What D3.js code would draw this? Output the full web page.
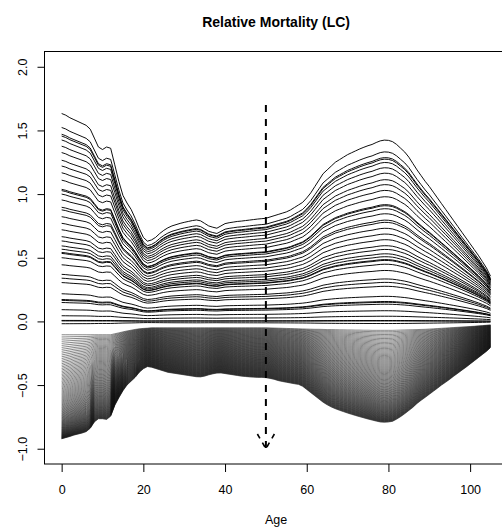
<!DOCTYPE html>
<html>
<head>
<meta charset="utf-8">
<script src="https://cdn.jsdelivr.net/npm/d3@7"></script>
<style>
  body { margin: 0; background: #fff; }
  svg { display: block; }
  text { font-family: "Liberation Sans", Arial, Helvetica, sans-serif; fill: #000; }
</style>
</head>
<body>
<svg id="chart" width="502" height="530"></svg>
<script>
// Single-year ages on the x axis
const ages = d3.range(0, 106);

// Relative mortality of the earliest observed year (upper envelope), by age
const topProfile = [
  1.633, 1.62, 1.60, 1.585, 1.57, 1.555, 1.54, 1.51, 1.44, 1.37,
  1.35, 1.37, 1.36, 1.23, 1.10, 0.99, 0.93, 0.88, 0.81, 0.73,
  0.66, 0.63, 0.64, 0.66, 0.69, 0.715, 0.735, 0.75, 0.76, 0.77,
  0.778, 0.785, 0.792, 0.797, 0.79, 0.77, 0.75, 0.74, 0.732, 0.75,
  0.768, 0.775, 0.78, 0.785, 0.788, 0.792, 0.796, 0.80, 0.804, 0.807,
  0.81, 0.82, 0.83, 0.84, 0.85, 0.86, 0.875, 0.895, 0.915, 0.935,
  0.97, 1.01, 1.06, 1.11, 1.16, 1.19, 1.22, 1.25, 1.27, 1.29,
  1.31, 1.325, 1.34, 1.355, 1.368, 1.38, 1.39, 1.405, 1.418, 1.424,
  1.422, 1.412, 1.39, 1.36, 1.33, 1.29, 1.24, 1.19, 1.145, 1.10,
  1.06, 1.015, 0.97, 0.925, 0.88, 0.835, 0.79, 0.745, 0.70, 0.655,
  0.61, 0.565, 0.52, 0.47, 0.42, 0.355
];

// Period index of the observed years (1 = earliest year, 0 = base year)
const pastIndex = [
  1.0, 0.956, 0.934, 0.928, 0.915, 0.894, 0.872, 0.845, 0.824, 0.799,
  0.771, 0.735, 0.730, 0.716, 0.692, 0.661, 0.650, 0.620, 0.590, 0.560,
  0.527, 0.506, 0.481, 0.464, 0.447, 0.442, 0.419, 0.380, 0.325, 0.302,
  0.275, 0.203, 0.164, 0.158, 0.143, 0.091, 0.045, 0.008, 0.004, -0.019
];

// Forecast jump-off level (first forecast year), by age
const jumpOffProfile = [
  -0.105, -0.105, -0.105, -0.105, -0.105, -0.105, -0.105, -0.105, -0.105, -0.105,
  -0.105, -0.105, -0.105, -0.097, -0.09, -0.082, -0.075, -0.069, -0.063, -0.058,
  -0.055, -0.053, -0.05, -0.05, -0.05, -0.05, -0.05, -0.05, -0.05, -0.05,
  -0.05, -0.05, -0.05, -0.05, -0.05, -0.05, -0.05, -0.05, -0.05, -0.05,
  -0.05, -0.05, -0.05, -0.05, -0.05, -0.05, -0.05, -0.05, -0.05, -0.05,
  -0.05, -0.051, -0.052, -0.053, -0.054, -0.055, -0.056, -0.057, -0.058, -0.059,
  -0.06, -0.061, -0.062, -0.062, -0.063, -0.064, -0.064, -0.065, -0.066, -0.066,
  -0.067, -0.067, -0.068, -0.068, -0.069, -0.069, -0.07, -0.07, -0.07, -0.07,
  -0.07, -0.07, -0.069, -0.068, -0.067, -0.066, -0.065, -0.064, -0.063, -0.062,
  -0.06, -0.058, -0.056, -0.054, -0.052, -0.05, -0.048, -0.046, -0.044, -0.042,
  -0.04, -0.038, -0.035, -0.033, -0.03, -0.028
];

// Relative mortality of the last forecast year (lower envelope), by age
const bottomProfile = [
  -0.922, -0.913, -0.904, -0.893, -0.885, -0.877, -0.866, -0.84, -0.79, -0.765,
  -0.765, -0.77, -0.745, -0.66, -0.60, -0.545, -0.50, -0.47, -0.44, -0.40,
  -0.372, -0.355, -0.36, -0.37, -0.38, -0.39, -0.40, -0.405, -0.41, -0.415,
  -0.42, -0.425, -0.43, -0.435, -0.436, -0.43, -0.42, -0.412, -0.406, -0.405,
  -0.41, -0.415, -0.42, -0.425, -0.43, -0.433, -0.436, -0.438, -0.44, -0.44,
  -0.442, -0.448, -0.455, -0.465, -0.472, -0.478, -0.484, -0.49, -0.495, -0.51,
  -0.535, -0.56, -0.585, -0.61, -0.635, -0.655, -0.672, -0.686, -0.698, -0.709,
  -0.72, -0.73, -0.74, -0.749, -0.758, -0.767, -0.775, -0.783, -0.79, -0.792,
  -0.79, -0.785, -0.768, -0.748, -0.725, -0.70, -0.675, -0.645, -0.62, -0.597,
  -0.573, -0.549, -0.525, -0.50, -0.478, -0.455, -0.43, -0.407, -0.383, -0.36,
  -0.335, -0.31, -0.285, -0.26, -0.235, -0.205
];

// Forecast period index (0 = jump-off year, 1 = last forecast year)
const forecastIndex = [
  0.000, 0.008, 0.016, 0.024, 0.032, 0.040, 0.048, 0.056, 0.064, 0.072,
  0.080, 0.088, 0.096, 0.104, 0.112, 0.120, 0.128, 0.136, 0.144, 0.152,
  0.160, 0.168, 0.176, 0.184, 0.192, 0.200, 0.208, 0.216, 0.224, 0.232,
  0.240, 0.248, 0.256, 0.264, 0.272, 0.280, 0.288, 0.296, 0.304, 0.312,
  0.320, 0.328, 0.336, 0.344, 0.352, 0.360, 0.368, 0.376, 0.384, 0.392,
  0.400, 0.408, 0.416, 0.424, 0.432, 0.440, 0.448, 0.456, 0.464, 0.472,
  0.480, 0.488, 0.496, 0.504, 0.512, 0.520, 0.528, 0.536, 0.544, 0.552,
  0.560, 0.568, 0.576, 0.584, 0.592, 0.600, 0.608, 0.616, 0.624, 0.632,
  0.640, 0.648, 0.656, 0.664, 0.672, 0.680, 0.688, 0.696, 0.704, 0.712,
  0.720, 0.728, 0.736, 0.744, 0.752, 0.760, 0.768, 0.776, 0.784, 0.792,
  0.800, 0.808, 0.816, 0.824, 0.832, 0.840, 0.848, 0.856, 0.864, 0.872,
  0.880, 0.888, 0.896, 0.904, 0.912, 0.920, 0.928, 0.936, 0.944, 0.952,
  0.960, 0.968, 0.976, 0.984, 0.992, 1.000
];

// Axis ticks and the marked age
const xTicks = [0, 20, 40, 60, 80, 100];
const yTicks = [-1.0, -0.5, 0.0, 0.5, 1.0, 1.5, 2.0];
const markerAge = 50;
const markerRange = [1.7, -1.0];

const titleText = "Relative Mortality (LC)";
const xLabel = "Age";

// ---- layout ----
const plot = { left: 44.5, right: 507.7, top: 51.5, bottom: 464 };
const xDomain = [0, 105], yDomain = [-1, 2];
const xPad = 0.04 * (xDomain[1] - xDomain[0]);
const yPad = 0.04 * (yDomain[1] - yDomain[0]);

const x = d3.scaleLinear()
  .domain([xDomain[0] - xPad, xDomain[1] + xPad])
  .range([plot.left, plot.right]);
const y = d3.scaleLinear()
  .domain([yDomain[0] - yPad, yDomain[1] + yPad])
  .range([plot.bottom, plot.top]);

const svg = d3.select("#chart");

svg.append("defs").append("clipPath").attr("id", "plot-clip")
  .append("rect")
  .attr("x", plot.left).attr("y", plot.top)
  .attr("width", plot.right - plot.left).attr("height", plot.bottom - plot.top);

// Lee-Carter style curves: log(1 + r) scales with the period index
const pastCurves = pastIndex.map(k =>
  ages.map((a, i) => ({ age: a, v: Math.exp(k * Math.log(1 + topProfile[i])) - 1 })));

const forecastCurves = forecastIndex.map(k =>
  ages.map((a, i) => {
    const a0 = Math.log(1 + jumpOffProfile[i]);
    const a1 = Math.log(1 + bottomProfile[i]);
    return { age: a, v: Math.exp(a0 + k * (a1 - a0)) - 1 };
  }));

const line = d3.line().x(d => x(d.age)).y(d => y(d.v));

const g = svg.append("g").attr("clip-path", "url(#plot-clip)");

g.append("g").selectAll("path").data(forecastCurves).join("path")
  .attr("d", line)
  .attr("fill", "none")
  .attr("stroke", "#111")
  .attr("stroke-width", 0.5);

g.append("g").selectAll("path").data(pastCurves).join("path")
  .attr("d", line)
  .attr("fill", "none")
  .attr("stroke", "#000")
  .attr("stroke-width", 0.95);

// Dashed arrow at the marked age
const ax = x(markerAge), ay0 = y(markerRange[0]), ay1 = y(markerRange[1]);
const arrow = svg.append("g")
  .attr("stroke", "#000").attr("stroke-width", 2)
  .attr("stroke-dasharray", "7,7").attr("fill", "none");
arrow.append("line").attr("x1", ax).attr("y1", ay0).attr("x2", ax).attr("y2", ay1);
const headLen = 17, headAng = Math.PI / 6;
[-1, 1].forEach(s => {
  arrow.append("line")
    .attr("x1", ax + s * headLen * Math.sin(headAng))
    .attr("y1", ay1 - headLen * Math.cos(headAng))
    .attr("x2", ax).attr("y2", ay1)
    .attr("stroke-width", 1.6)
    .attr("stroke-dasharray", "5,5");
});

// Plot frame
svg.append("rect")
  .attr("x", plot.left).attr("y", plot.top)
  .attr("width", plot.right - plot.left).attr("height", plot.bottom - plot.top)
  .attr("fill", "none").attr("stroke", "#000").attr("stroke-width", 1);

// X axis
const xAxis = svg.append("g")
  .attr("transform", `translate(0,${plot.bottom})`)
  .call(d3.axisBottom(x).tickValues(xTicks).tickSize(8).tickPadding(6).tickFormat(d3.format("d")));
xAxis.select(".domain").remove();
xAxis.selectAll("line").attr("stroke", "#000");
xAxis.selectAll("text").attr("font-size", "12.5px").attr("fill", "#000")
  .attr("font-family", '"Liberation Sans", Arial, sans-serif')
  .attr("y", 30).attr("dy", 0);

// Y axis with rotated labels
const yAxis = svg.append("g")
  .attr("transform", `translate(${plot.left},0)`)
  .call(d3.axisLeft(y).tickValues(yTicks).tickSize(7).tickFormat(d3.format(".1f")));
yAxis.select(".domain").remove();
yAxis.selectAll("line").attr("stroke", "#000");
yAxis.selectAll("text")
  .attr("font-size", "12.5px").attr("fill", "#000")
  .attr("font-family", '"Liberation Sans", Arial, sans-serif')
  .attr("x", null).attr("dy", null)
  .attr("text-anchor", "middle")
  .attr("transform", "translate(-17.5,0) rotate(-90)");

// Title and axis label
svg.append("text")
  .attr("x", (plot.left + plot.right) / 2).attr("y", 27)
  .attr("text-anchor", "middle")
  .attr("font-size", "14px").attr("font-weight", "bold")
  .text(titleText);

svg.append("text")
  .attr("x", (plot.left + plot.right) / 2).attr("y", 524)
  .attr("text-anchor", "middle")
  .attr("font-size", "12.5px")
  .text(xLabel);
</script>
</body>
</html>
